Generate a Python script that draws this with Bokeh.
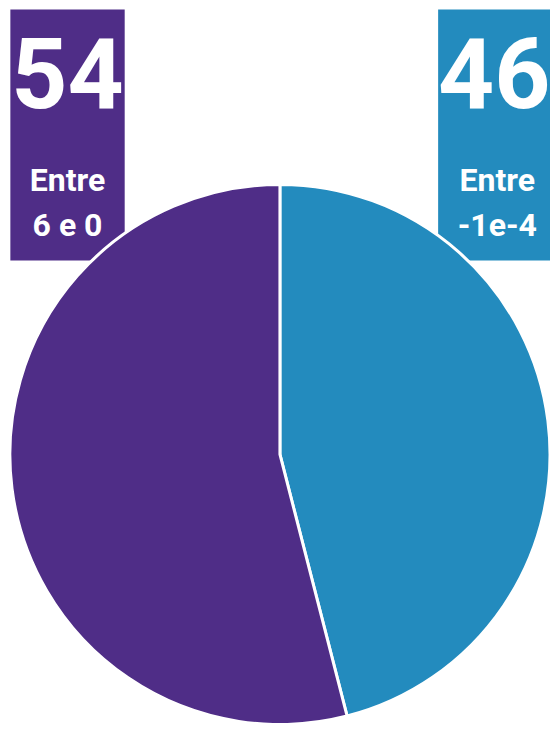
import math
from bokeh.plotting import figure
from bokeh.models import Range1d, ColumnDataSource
from bokeh.core.properties import value
from bokeh.embed import file_html
from bokeh.resources import INLINE

# Data
categories = ["Entre -1 e -4", "Entre 6 e 0"]
shares = [46, 54]
big_labels = ["46", "54"]
line1 = ["Entre", "Entre"]
line2 = ["-1e-4", "6 e 0"]
colors = ["#238BBE", "#4F2D87"]

W, H = 550, 723
RW, RH = 558, 731  # reference coordinate space


def Y(sy):
    return RH - sy


p = figure(width=W, height=H, output_backend="svg", toolbar_location=None,
           x_range=Range1d(0, RW), y_range=Range1d(0, RH),
           min_border=0, outline_line_color=None, background_fill_color="white",
           border_fill_color="white")
p.axis.visible = False
p.grid.visible = False

# Label boxes (drawn under the pie)
box_left = [444, 10]
box_right = [560, 126]
box_top = [9, 9]
box_bottom = [263, 263]
p.quad(left=box_left, right=box_right, top=[Y(t) for t in box_top],
       bottom=[Y(b) for b in box_bottom], fill_color=colors, line_color=None)

# Pie
total = sum(shares)
starts, ends = [], []
acc = 0.0
for s in shares:
    a0 = math.pi / 2 - 2 * math.pi * acc / total
    acc += s
    a1 = math.pi / 2 - 2 * math.pi * acc / total
    starts.append(a0)
    ends.append(a1)

cx, cy, r = 283.5, 459, 274
src = ColumnDataSource(dict(cat=categories, start=starts, end=ends, color=colors))
p.wedge(x=cx, y=Y(cy), radius=r, start_angle="start", end_angle="end",
        direction="clock", fill_color="color", line_color="white", line_width=3,
        source=src)

font = value("Roboto")
p.text(x=[501, 68], y=[Y(73), Y(73)], text=big_labels, text_font=font,
       text_font_style="bold", text_font_size="98px", text_color="white",
       text_align="center", text_baseline="middle")
p.text(x=[504, 68], y=[Y(181), Y(181)], text=line1, text_font=font,
       text_font_style="bold", text_font_size="32px", text_color="white",
       text_align="center", text_baseline="middle")
p.text(x=[504, 68], y=[Y(227), Y(227)], text=line2, text_font=font,
       text_font_style="bold", text_font_size="32px", text_color="white",
       text_align="center", text_baseline="middle")

open("out.html", "w").write(file_html(p, INLINE))
